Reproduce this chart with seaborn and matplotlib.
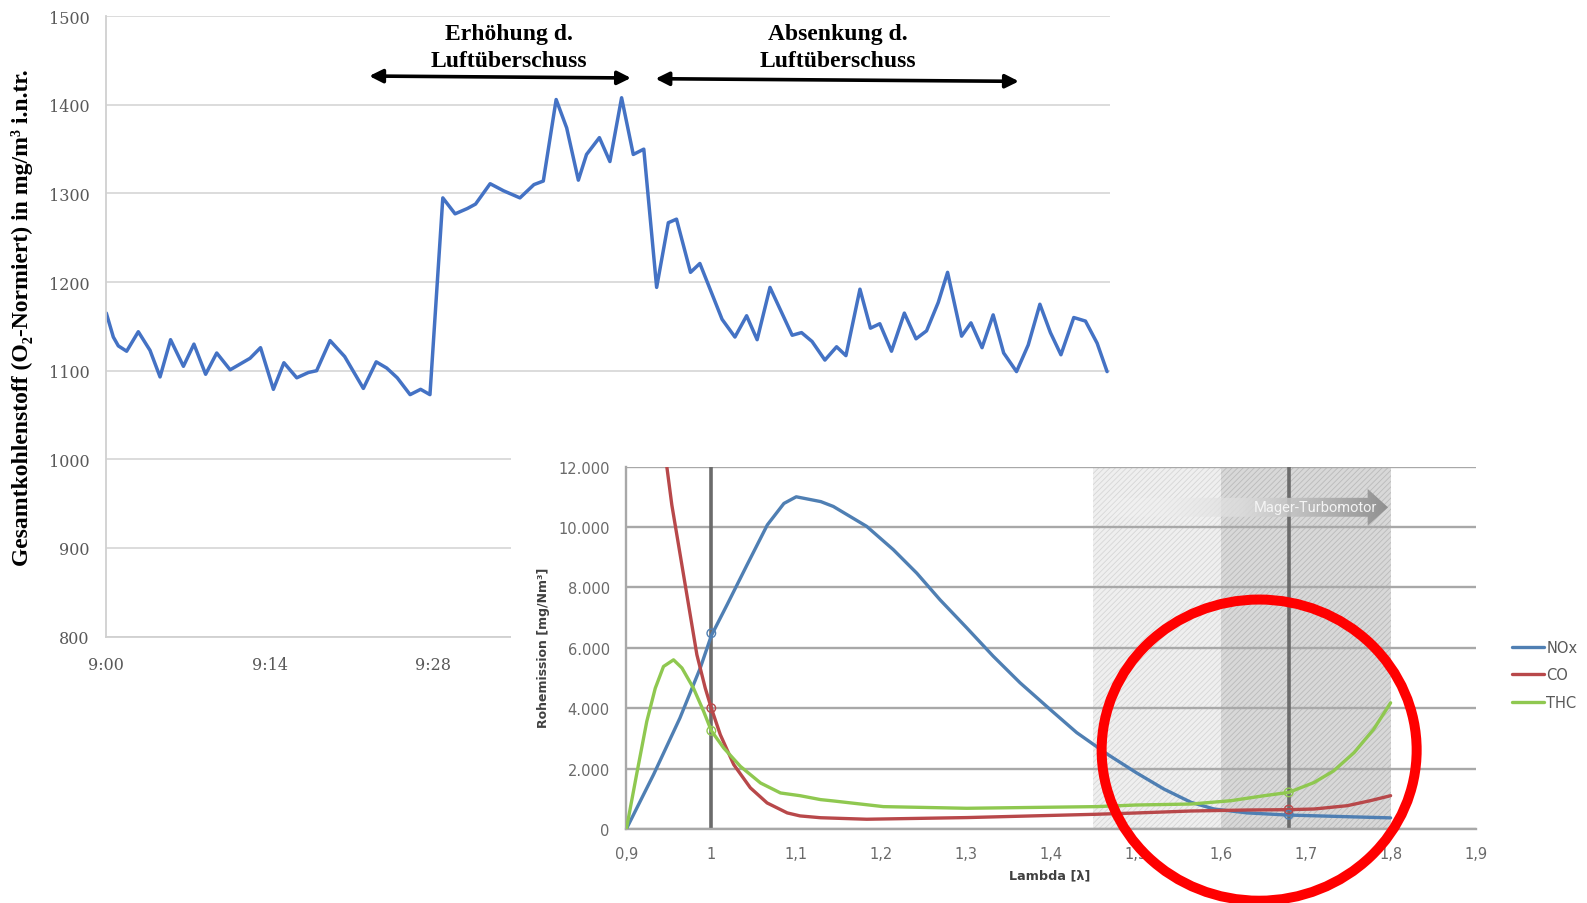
import numpy as np
import pandas as pd
import matplotlib
matplotlib.use("Agg")
import matplotlib.pyplot as plt
import seaborn as sns
from matplotlib.patches import Ellipse, Polygon
from matplotlib.lines import Line2D
from matplotlib.colors import LinearSegmentedColormap

# ---------------- data: top chart (total carbon over time, minutes after 9:00) ----------------
minutes = [0, 0.6, 1.03, 1.74, 2.74, 3.74, 4.6, 5.5, 6.6, 7.5, 8.5, 9.45, 10.6, 12.3, 13.2,
           14.3, 15.2, 16.3, 17.3, 18.0, 19.15, 20.4, 22.0, 23.1, 24.0, 24.9, 26.0, 26.9,
           27.7, 28.8, 29.85, 30.9, 31.6, 32.85, 34.0, 35.4, 36.6, 37.4, 38.5, 39.4, 40.4,
           41.1, 42.2, 43.1, 44.1, 45.1, 46.0, 47.1, 48.1, 48.8, 50.0, 50.8, 52.7, 53.8,
           54.8, 55.7, 56.8, 58.7, 59.5, 60.4, 61.5, 62.5, 63.3, 64.5, 65.4, 66.2, 67.2,
           68.3, 69.3, 70.2, 71.2, 72.0, 73.2, 74.0, 74.95, 75.9, 76.8, 77.9, 78.9, 79.9,
           80.8, 81.7, 82.8, 83.8, 84.8, 85.65]
tc_values = [1165, 1138, 1128, 1122, 1144, 1123, 1093, 1135, 1105, 1130, 1096, 1120, 1101, 1114,
             1126, 1079, 1109, 1092, 1098, 1100, 1134, 1116, 1080, 1110, 1103, 1092, 1073,
             1079, 1073, 1295, 1277, 1283, 1288, 1311, 1303, 1295, 1310, 1314, 1406, 1374,
             1315, 1344, 1363, 1336, 1408, 1344, 1350, 1194, 1267, 1271, 1211, 1221, 1158,
             1138, 1162, 1135, 1194, 1140, 1143, 1133, 1112, 1127, 1117, 1192, 1148, 1153,
             1122, 1165, 1136, 1145, 1177, 1211, 1139, 1154, 1126, 1163, 1120, 1099, 1129,
             1175, 1143, 1118, 1160, 1156, 1131, 1099]
time_ticks = [0, 14, 28, 42, 56, 70, 84]
time_labels = ["9:00", "9:14", "9:28", "9:42", "9:56", "10:10", "10:24"]
tc_ticks = [800, 900, 1000, 1100, 1200, 1300, 1400, 1500]

# ---------------- data: inset chart (raw emission vs lambda) ----------------
lam_nox = [0.9, 0.932, 0.963, 0.987, 1.0, 1.0185, 1.042, 1.066, 1.0855, 1.1, 1.129, 1.1437,
           1.183, 1.2143, 1.242, 1.2693, 1.3008, 1.332, 1.3636, 1.3989, 1.4303, 1.4667, 1.5,
           1.533, 1.565, 1.592, 1.631, 1.678, 1.741, 1.8]
nox = [0, 1800, 3670, 5330, 6400, 7420, 8740, 10070, 10780, 11000, 10840, 10680,
       10020, 9250, 8470, 7590, 6660, 5720, 4840, 3960, 3190, 2470, 1870,
       1320, 880, 660, 530, 460, 410, 365]
lam_co = [0.94, 0.9476, 0.9535, 0.9634, 0.9732, 0.983, 0.9929, 1.0, 1.0106, 1.0264, 1.046,
          1.0657, 1.0894, 1.1045, 1.1287, 1.183, 1.3008, 1.4539, 1.5, 1.565, 1.631, 1.68,
          1.71, 1.749, 1.776, 1.8]
co = [13600, 12000, 10730, 9070, 7420, 5770, 4660, 4000, 3120, 2130, 1360,
      860, 530, 430, 370, 320, 375, 485, 527, 593, 626, 637,
      659, 769, 934, 1100]
lam_thc = [0.9, 0.912, 0.924, 0.934, 0.9437, 0.9555, 0.9654, 0.979, 0.991, 1.0, 1.0146,
           1.0343, 1.058, 1.0815, 1.1045, 1.1287, 1.1437, 1.2026, 1.3008, 1.4539, 1.5, 1.565,
           1.612, 1.651, 1.68, 1.71, 1.733, 1.757, 1.78, 1.8]
thc = [0, 1800, 3560, 4660, 5380, 5600, 5330, 4660, 3890, 3250, 2680,
       2070, 1520, 1190, 1100, 970, 926, 738, 683, 738, 791, 824,
       934, 1099, 1209, 1538, 1923, 2527, 3297, 4176]
marker_lambda = [1.0, 1.68]
nox_markers = [6480, 470]
co_markers = [4000, 640]
thc_markers = [3250, 1210]
lambda_ticks = [0.9, 1.0, 1.1, 1.2, 1.3, 1.4, 1.5, 1.6, 1.7, 1.8, 1.9]
lambda_labels = ["0,9", "1", "1,1", "1,2", "1,3", "1,4", "1,5", "1,6", "1,7", "1,8", "1,9"]
emission_ticks = [0, 2000, 4000, 6000, 8000, 10000, 12000]
emission_labels = ["0", "2.000", "4.000", "6.000", "8.000", "10.000", "12.000"]
ref_lines = [1.0, 1.68]
series_names = ["NOx", "CO", "THC"]
series_colors = {"NOx": "#4f7fb3", "CO": "#b8484a", "THC": "#8fc850"}

# ---------------- figure ----------------
sns.set_theme(style="white")
plt.rcParams["font.family"] = ["DejaVu Sans"]
plt.rcParams["hatch.linewidth"] = 0.6

W, H = 1587, 904
fig = plt.figure(figsize=(W / 100, H / 100), dpi=100)
fig.patch.set_facecolor("white")


def fx(px):
    return px / W


def fy(py):
    return 1 - py / H


# ---- top chart ----
ax = fig.add_axes([fx(106.3), fy(637.6), fx(1110) - fx(106.3), (637.6 - 17.2) / H])
ax.set_zorder(0)
sns.lineplot(x=minutes, y=tc_values, ax=ax, color="#4472c4", linewidth=2.5,
             estimator=None, sort=False)
ax.lines[0].set_solid_joinstyle("round")
ax.lines[0].set_solid_capstyle("round")
ax.set_xlim(0, 85.9)
ax.set_ylim(800, 1500)
ax.set_xticks(time_ticks)
ax.set_xticklabels(time_labels)
ax.set_yticks(tc_ticks)
ax.yaxis.grid(True, color="#d9d9d9", linewidth=1.3)
ax.xaxis.grid(False)
ax.set_axisbelow(True)
for s in ["top", "right"]:
    ax.spines[s].set_visible(False)
for s in ["left", "bottom"]:
    ax.spines[s].set_color("#d0d0d0")
    ax.spines[s].set_linewidth(1.3)
ax.tick_params(axis="x", direction="out", length=5, width=1.3, color="#d0d0d0",
               pad=9, labelsize=11.5, labelcolor="#595959")
ax.tick_params(axis="y", length=0, pad=12, labelsize=11.5, labelcolor="#595959")
for lab in ax.get_xticklabels() + ax.get_yticklabels():
    lab.set_fontfamily(["DejaVu Serif"])
ax.set_xlabel("")
ax.set_ylabel("")
fig.text(fx(22), fy(318), "Gesamtkohlenstoff (O₂-Normiert) in mg/m³ i.n.tr.",
         rotation=90, ha="center", va="center", fontsize=17, fontweight="bold",
         family=["Liberation Serif", "DejaVu Serif"], color="black")

arrow_kw = dict(arrowstyle="<|-|>", color="black", lw=2.6, mutation_scale=20,
                shrinkA=0, shrinkB=0)
ax.annotate("", xy=(22.5, 1432.5), xytext=(44.9, 1430.3), arrowprops=arrow_kw)
ax.annotate("", xy=(47.0, 1429.5), xytext=(78.1, 1426.5), arrowprops=arrow_kw)
txt_kw = dict(ha="center", va="center", fontsize=17, fontweight="bold",
              family=["Liberation Serif", "DejaVu Serif"], color="black")
ax.text(34.5, 1481, "Erhöhung d.", **txt_kw)
ax.text(34.5, 1450, "Luftüberschuss", **txt_kw)
ax.text(62.6, 1481, "Absenkung d.", **txt_kw)
ax.text(62.6, 1450, "Luftüberschuss", **txt_kw)

# ---- white background for the inset ----
bg = fig.add_axes([fx(511), 0, 1 - fx(511), 1 - 445 / H])
bg.set_zorder(1)
bg.set_facecolor("white")
bg.set_xticks([])
bg.set_yticks([])
for s in bg.spines.values():
    s.set_visible(False)

# ---- inset chart ----
ax2 = fig.add_axes([fx(626.4), fy(829.9), (1475.5 - 626.4) / W, (829.9 - 467.6) / H])
ax2.set_zorder(2)
ax2.set_facecolor("white")

ax2.axvspan(1.45, 1.6, facecolor="#efefef", edgecolor="#d6d6d6", hatch="//////",
            linewidth=0, zorder=0.1)
ax2.axvspan(1.6, 1.8, facecolor="#d8d8d8", edgecolor="#bababa", hatch="//////",
            linewidth=0, zorder=0.1)

df = pd.concat([
    pd.DataFrame({"lambda": lam_nox, "value": nox, "series": "NOx"}),
    pd.DataFrame({"lambda": lam_co, "value": co, "series": "CO"}),
    pd.DataFrame({"lambda": lam_thc, "value": thc, "series": "THC"}),
], ignore_index=True)

for xv in ref_lines:
    ax2.axvline(xv, color="#6b6b6b", linewidth=2.6, zorder=1.5)

# gradient arrow "Mager-Turbomotor"
cmap = LinearSegmentedColormap.from_list(
    "grad", [(1, 1, 1, 0.0), (0.86, 0.86, 0.86, 0.85), (0.56, 0.56, 0.56, 1.0)])
grad = np.linspace(0, 1, 256).reshape(1, -1)
im = ax2.imshow(grad, extent=[1.45, 1.80, 10000, 11300], aspect="auto", cmap=cmap,
                zorder=2.5, interpolation="bicubic")
poly = Polygon([(1.45, 10339), (1.773, 10339), (1.773, 10041), (1.797, 10650),
                (1.773, 11263), (1.773, 10966), (1.45, 10966)], closed=True,
               facecolor="none", edgecolor="none", transform=ax2.transData)
ax2.add_patch(poly)
im.set_clip_path(poly)
ax2.text(1.711, 10646, "Mager-Turbomotor", ha="center", va="center", fontsize=10.5,
         color="#f4f4f4", family=["Roboto", "DejaVu Sans"], zorder=3)

sns.lineplot(data=df, x="lambda", y="value", hue="series", palette=series_colors,
             hue_order=series_names, estimator=None, sort=False, linewidth=2.4,
             legend=False, ax=ax2, zorder=4)
for line in ax2.lines:
    line.set_solid_joinstyle("round")

ax2.scatter(marker_lambda, nox_markers, s=38, facecolors="none",
            edgecolors=series_colors["NOx"], linewidths=1.0, zorder=5)
ax2.scatter(marker_lambda, co_markers, s=38, facecolors="none",
            edgecolors=series_colors["CO"], linewidths=1.0, zorder=5)
ax2.scatter(marker_lambda, thc_markers, s=38, facecolors="none",
            edgecolors=series_colors["THC"], linewidths=1.0, zorder=5)

ax2.set_xlim(0.9, 1.9)
ax2.set_ylim(0, 12000)
ax2.set_xticks(lambda_ticks)
ax2.set_xticklabels(lambda_labels)
ax2.set_yticks(emission_ticks)
ax2.set_yticklabels(emission_labels)
ax2.yaxis.grid(True, color="#a8a8a8", linewidth=1.7)
ax2.xaxis.grid(False)
ax2.set_axisbelow(True)
for s in ["top", "right"]:
    ax2.spines[s].set_visible(False)
for s in ["left", "bottom"]:
    ax2.spines[s].set_color("#a8a8a8")
    ax2.spines[s].set_linewidth(1.7)
ax2.tick_params(axis="x", direction="out", length=6, width=1.5, color="#a8a8a8",
                pad=6, labelsize=10.5, labelcolor="#6a6a6a")
ax2.tick_params(axis="y", length=0, pad=12, labelsize=10.5, labelcolor="#6a6a6a")
ax2.set_xlabel("")
ax2.set_ylabel("")

fig.text(fx(543), fy(648), "Rohemission [mg/Nm³]", rotation=90, ha="center", va="center",
         fontsize=9, fontweight="bold", color="#404040")
fig.text(fx(1050), fy(876), "Lambda [λ]", ha="center", va="center",
         fontsize=9.2, fontweight="bold", color="#404040")

handles = [Line2D([0], [0], color=series_colors[n], lw=2.4) for n in series_names]
leg = fig.legend(handles, series_names, loc="center left",
                 bbox_to_anchor=(fx(1499), fy(676)), frameon=False, fontsize=10.5,
                 handlelength=2.2, handletextpad=0.15, labelspacing=0.85)
for t in leg.get_texts():
    t.set_color("#595959")

# red highlight circle
circ = Ellipse((1.6452, 2609), width=0.371, height=9975, fill=False,
               edgecolor="#ff0000", linewidth=7.2, clip_on=False, zorder=10)
ax2.add_patch(circ)

fig.savefig("out.png", dpi=100)
